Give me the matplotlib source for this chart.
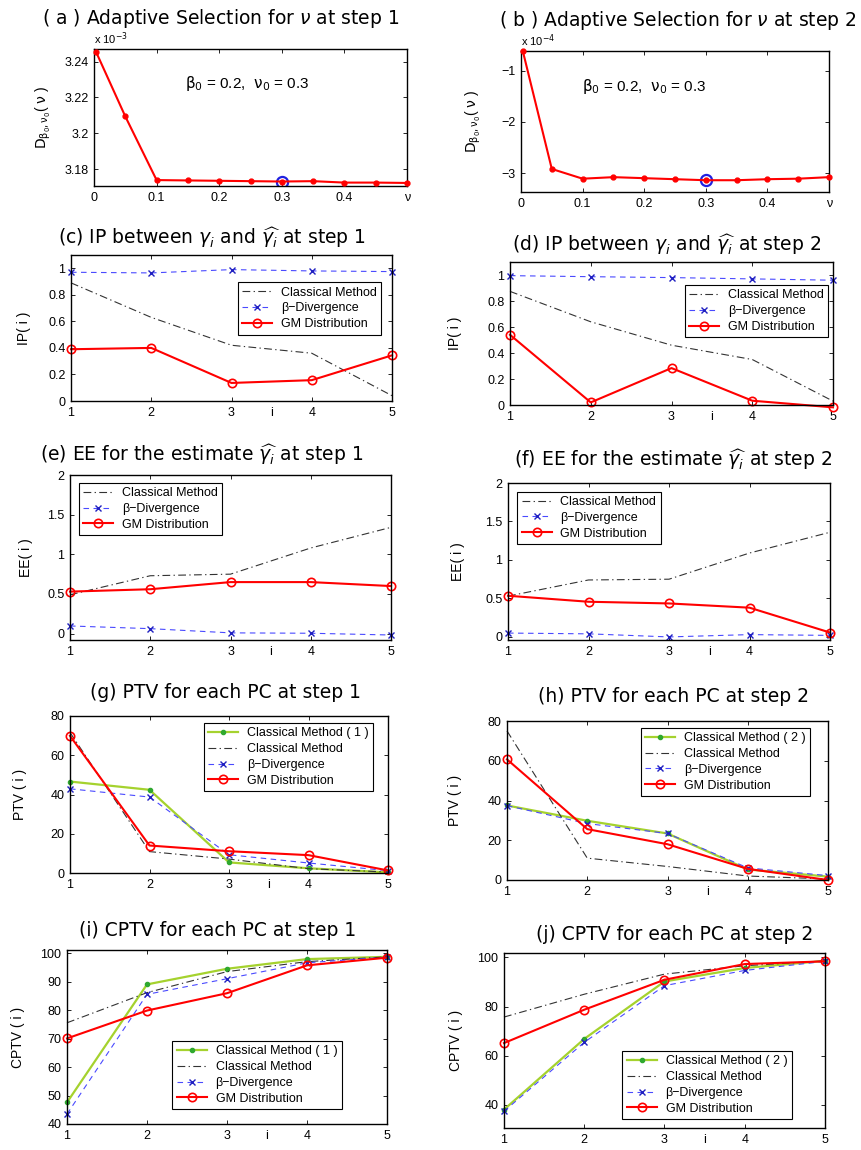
import numpy as np
import matplotlib.pyplot as plt
from matplotlib.ticker import FuncFormatter

# ---- data ----
nu = [0.003, 0.05, 0.1, 0.15, 0.2, 0.25, 0.3, 0.35, 0.4, 0.45, 0.5]
d_step1 = [3.2456, 3.2094, 3.1739, 3.1737, 3.1735, 3.1733, 3.1731, 3.1733, 3.1725, 3.1725, 3.1723]  # x 1e-3
d_step2 = [-0.62, -2.92, -3.11, -3.08, -3.10, -3.12, -3.14, -3.14, -3.12, -3.11, -3.08]  # x 1e-4
nu_best = 0.3
nu_ticks = [0, 0.1, 0.2, 0.3, 0.4, 0.5]
nu_ticklabels = ['0', '0.1', '0.2', '0.3', '0.4', 'ν']

pc = [1, 2, 3, 4, 5]

ip1_classic = [0.89, 0.63, 0.42, 0.36, 0.04]
ip1_beta = [0.97, 0.965, 0.99, 0.98, 0.975]
ip1_gm = [0.39, 0.40, 0.136, 0.157, 0.344]
ip2_classic = [0.874, 0.64, 0.46, 0.35, 0.03]
ip2_beta = [0.995, 0.987, 0.98, 0.97, 0.96]
ip2_gm = [0.54, 0.02, 0.284, 0.033, -0.018]

ee1_classic = [0.49, 0.73, 0.75, 1.08, 1.34]
ee1_beta = [0.097, 0.063, 0.01, 0.005, -0.017]
ee1_gm = [0.53, 0.56, 0.65, 0.65, 0.60]
ee2_classic = [0.53, 0.74, 0.75, 1.09, 1.36]
ee2_beta = [0.05, 0.04, 0.0, 0.03, 0.02]
ee2_gm = [0.535, 0.457, 0.435, 0.38, 0.057]

ptv1_green = [46.6, 42.4, 5.4, 2.4, 0.3]
ptv1_classic = [71.6, 10.9, 7.1, 2.2, 0.5]
ptv1_beta = [42.9, 38.7, 9.3, 5.1, 1.2]
ptv1_gm = [69.9, 14.0, 11.1, 9.1, 1.3]
ptv2_green = [37.5, 29.8, 23.4, 5.3, 1.7]
ptv2_classic = [75.0, 11.0, 6.8, 2.0, 0.5]
ptv2_beta = [37.4, 28.4, 23.4, 6.1, 2.2]
ptv2_gm = [60.7, 25.6, 18.0, 5.6, 0.0]

cptv1_green = [47.6, 89.1, 94.6, 98.0, 98.8]
cptv1_classic = [75.6, 86.2, 93.6, 97.1, 98.8]
cptv1_beta = [43.5, 85.6, 91.1, 96.7, 98.7]
cptv1_gm = [70.1, 79.9, 86.0, 95.8, 98.5]
cptv2_green = [38.0, 66.8, 90.2, 95.7, 98.6]
cptv2_classic = [75.7, 85.0, 93.2, 96.6, 98.6]
cptv2_beta = [37.3, 65.4, 88.5, 94.7, 98.4]
cptv2_gm = [65.1, 78.7, 90.9, 97.3, 98.4]

lab_classic = 'Classical Method'
lab_beta = 'β−Divergence'
lab_gm = 'GM Distribution'

plt.rcParams['font.family'] = ['Liberation Sans', 'DejaVu Sans']
plt.rcParams['mathtext.fontset'] = 'dejavusans'

W, H = 861, 1150
fig = plt.figure(figsize=(W / 100, H / 100), dpi=100)
short = FuncFormatter(lambda v, p: ('%g' % v).replace('-', '−'))


def make_axes(l, r, t, b):
    ax = fig.add_axes([l / W, 1 - b / H, (r - l) / W, (b - t) / H])
    ax.tick_params(direction='in', top=True, right=True, labelsize=9, length=3, width=0.6, pad=4)
    for s in ax.spines.values():
        s.set_linewidth(1.0)
    return ax


def title(x, y, s):
    fig.text(x / W, 1 - y / H, s, ha='center', va='center', fontsize=13.5, family=['DejaVu Sans'])


def plot_classic(ax, y, lab=lab_classic):
    ax.plot(pc, y, color='#333333', lw=0.8, dashes=(7, 3, 1.2, 3), label=lab, clip_on=False)


def plot_beta(ax, y):
    ax.plot(pc, y, color='#4a4aff', lw=0.8, dashes=(5, 4), marker='x', ms=4.5, mec='#2020c0',
            mew=1.0, label=lab_beta, clip_on=False)


def plot_gm(ax, y):
    ax.plot(pc, y, color='red', lw=1.5, marker='o', ms=6, mfc='none', mew=1.2,
            label=lab_gm, clip_on=False)


def plot_green(ax, y, lab):
    ax.plot(pc, y, color='#a5d22e', lw=1.6, marker='.', ms=6, mfc='#2fa82f', mec='#2fa82f',
            label=lab, clip_on=False)


def finish_pc(ax, ylab, lx, ylim, yticks, legloc, anchor):
    ax.set_xlim(1, 5)
    ax.set_xticks(pc)
    ax.set_ylim(*ylim)
    ax.set_yticks(yticks)
    ax.yaxis.set_major_formatter(short)
    ax.set_ylabel(ylab, fontsize=10)
    ax.yaxis.set_label_coords(lx, 0.5)
    ax.annotate('i', xy=(3.5, 0), xycoords=('data', 'axes fraction'), xytext=(0, -4),
                textcoords='offset points', ha='center', va='top', fontsize=9)
    ax.legend(loc=legloc, bbox_to_anchor=anchor, borderaxespad=0, fontsize=9, frameon=True,
              fancybox=False, edgecolor='black', framealpha=1, labelspacing=0.3,
              borderpad=0.35, handlelength=2.4, handletextpad=0.7)
    ax.get_legend().get_frame().set_linewidth(0.8)


# ---- (a) and (b): adaptive selection of nu ----
for k, (vals, box, mult, ylim, yticks, note_xy, lx, tpos) in enumerate([
        (d_step1, (94, 407, 49, 186), r'x 10$^{-3}$', (3.1706, 3.247), [3.18, 3.2, 3.22, 3.24],
         (0.145, 3.228), -0.131,
         (221, 18, r'( a ) Adaptive Selection for $\nu$ at step 1')),
        (d_step2, (521, 829, 51, 192), r'x 10$^{-4}$', (-3.37, -0.616), [-3, -2, -1],
         (0.099, -1.31), -0.123,
         (678, 20, r'( b ) Adaptive Selection for $\nu$ at step 2'))]):
    ax = make_axes(*box)
    best = vals[nu.index(nu_best)]
    ax.plot(nu_best, best, 'o', ms=8, mfc='none', mec='#2020e0', mew=1.6, zorder=2)
    ax.plot(nu, vals, color='red', lw=1.5, marker='.', ms=7, zorder=3, clip_on=False)
    ax.set_xlim(0, 0.5)
    ax.set_xticks(nu_ticks)
    ax.set_xticklabels(nu_ticklabels)
    ax.set_ylim(*ylim)
    ax.set_yticks(yticks)
    ax.yaxis.set_major_formatter(short)
    ax.text(0.0, 1.015, mult, transform=ax.transAxes, fontsize=8, ha='left', va='bottom')
    ax.text(note_xy[0], note_xy[1], r'$\mathrm{\beta_0}$ = 0.2,  $\mathrm{\nu_0}$ = 0.3',
            fontsize=11, va='center', ha='left')
    ax.set_ylabel(r'$\mathrm{D_{\beta_0,\nu_0}}$( $\mathrm{\nu}$ )', fontsize=10)
    ax.yaxis.set_label_coords(lx, 0.5)
    title(*tpos)

# ---- (c) IP step 1 ----
ax = make_axes(71, 392, 255, 401)
plot_classic(ax, ip1_classic)
plot_beta(ax, ip1_beta)
plot_gm(ax, ip1_gm)
finish_pc(ax, 'IP( i )', -0.125, (0, 1.1), [0, 0.2, 0.4, 0.6, 0.8, 1], 'upper right', (0.966, 0.813))
title(212, 238, r'(c) IP between $\gamma_i$ and $\widehat{\gamma_i}$ at step 1')

# ---- (d) IP step 2 ----
ax = make_axes(510, 833, 262, 405)
plot_classic(ax, ip2_classic)
plot_beta(ax, ip2_beta)
plot_gm(ax, ip2_gm)
finish_pc(ax, 'IP( i )', -0.149, (0, 1.1), [0, 0.2, 0.4, 0.6, 0.8, 1], 'upper right', (0.985, 0.839))
title(667, 245, r'(d) IP between $\gamma_i$ and $\widehat{\gamma_i}$ at step 2')

# ---- (e) EE step 1 ----
ax = make_axes(70, 391, 475, 640)
plot_classic(ax, ee1_classic)
plot_beta(ax, ee1_beta)
plot_gm(ax, ee1_gm)
finish_pc(ax, 'EE( i )', -0.115, (-0.08, 2), [0, 0.5, 1, 1.5, 2], 'upper left', (0.028, 0.952))
title(202, 455, r'(e) EE for the estimate $\widehat{\gamma_i}$ at step 1')

# ---- (f) EE step 2 ----
ax = make_axes(508, 830, 483, 640)
plot_classic(ax, ee2_classic)
plot_beta(ax, ee2_beta)
plot_gm(ax, ee2_gm)
finish_pc(ax, 'EE( i )', -0.134, (-0.04, 2), [0, 0.5, 1, 1.5, 2], 'upper left', (0.029, 0.945))
title(673, 460, r'(f) EE for the estimate $\widehat{\gamma_i}$ at step 2')

# ---- (g) PTV step 1 ----
ax = make_axes(70, 388, 716, 873)
plot_green(ax, ptv1_green, 'Classical Method ( 1 )')
plot_classic(ax, ptv1_classic)
plot_beta(ax, ptv1_beta)
plot_gm(ax, ptv1_gm)
finish_pc(ax, 'PTV ( i )', -0.135, (0, 80), [0, 20, 40, 60, 80], 'upper right', (0.952, 0.955))
title(225, 692, '(g) PTV for each PC at step 1')

# ---- (h) PTV step 2 ----
ax = make_axes(507, 828, 721, 880)
plot_green(ax, ptv2_green, 'Classical Method ( 2 )')
plot_classic(ax, ptv2_classic)
plot_beta(ax, ptv2_beta)
plot_gm(ax, ptv2_gm)
finish_pc(ax, 'PTV ( i )', -0.14, (0, 80), [0, 20, 40, 60, 80], 'upper right', (0.944, 0.956))
title(673, 697, '(h) PTV for each PC at step 2')

# ---- (i) CPTV step 1 ----
ax = make_axes(67, 387, 950, 1124)
plot_green(ax, cptv1_green, 'Classical Method ( 1 )')
plot_classic(ax, cptv1_classic)
plot_beta(ax, cptv1_beta)
plot_gm(ax, cptv1_gm)
finish_pc(ax, 'CPTV ( i )', -0.131, (40, 101.2), [40, 50, 60, 70, 80, 90, 100], 'lower right', (0.858, 0.086))
title(218, 930, '(i) CPTV for each PC at step 1')

# ---- (j) CPTV step 2 ----
ax = make_axes(504, 825, 953, 1128)
plot_green(ax, cptv2_green, 'Classical Method ( 2 )')
plot_classic(ax, cptv2_classic)
plot_beta(ax, cptv2_beta)
plot_gm(ax, cptv2_gm)
finish_pc(ax, 'CPTV ( i )', -0.128, (30.5, 101.8), [40, 60, 80, 100], 'lower right', (0.896, 0.051))
title(675, 935, '(j) CPTV for each PC at step 2')

fig.savefig('out.png', dpi=100)
